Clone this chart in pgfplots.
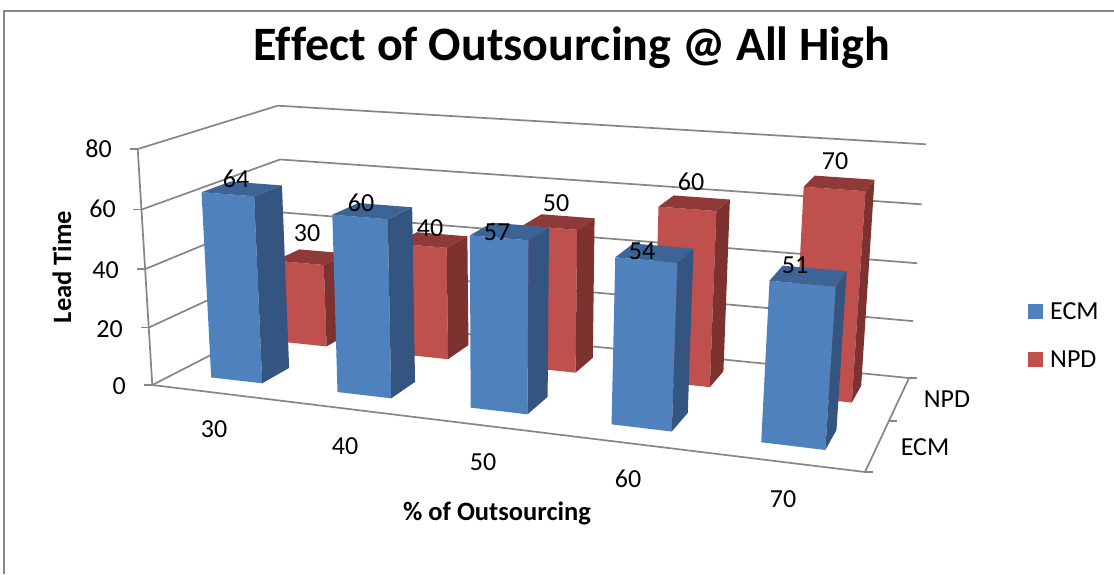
\documentclass[border=0pt]{standalone}
\usepackage{fontspec}
\setmainfont{Carlito}[Ligatures=NoCommon]
\usepackage{pgfplots}
\usepackage{pgfplotstable}
\pgfplotsset{compat=1.18}
\definecolor{bluefront}{HTML}{4F81BD}
\definecolor{blueside}{HTML}{34557F}
\definecolor{bluetop}{HTML}{3D6496}
\definecolor{redfront}{HTML}{C0504D}
\definecolor{redside}{HTML}{7D3230}
\definecolor{redtop}{HTML}{8F3A38}
\definecolor{axisgray}{HTML}{868686}
% one bar: category, depth, value, face colours
\newcommand{\onebar}[6]{%
  \pgfmathsetmacro{\ua}{#1+0.295}\pgfmathsetmacro{\ub}{#1+0.705}%
  \pgfmathsetmacro{\wa}{#2+0.3}\pgfmathsetmacro{\wb}{#2+0.7}%
  \edef\temp{\noexpand\addplot[fill=#4,draw=none] coordinates {
    ({px(\ua,\wa,0)},{py(\ua,\wa,0)}) ({px(\ub,\wa,0)},{py(\ub,\wa,0)})
    ({px(\ub,\wa,#3)},{py(\ub,\wa,#3)}) ({px(\ua,\wa,#3)},{py(\ua,\wa,#3)})} --cycle;
  \noexpand\addplot[fill=#5,draw=none] coordinates {
    ({px(\ub,\wa,0)},{py(\ub,\wa,0)}) ({px(\ub,\wb,0)},{py(\ub,\wb,0)})
    ({px(\ub,\wb,#3)},{py(\ub,\wb,#3)}) ({px(\ub,\wa,#3)},{py(\ub,\wa,#3)})} --cycle;
  \noexpand\addplot[fill=#6,draw=none] coordinates {
    ({px(\ua,\wa,#3)},{py(\ua,\wa,#3)}) ({px(\ub,\wa,#3)},{py(\ub,\wa,#3)})
    ({px(\ub,\wb,#3)},{py(\ub,\wb,#3)}) ({px(\ua,\wb,#3)},{py(\ua,\wb,#3)})} --cycle;}%
  \temp}
\newcommand{\gline}[6]{\addplot[axisgray,line width=1.7pt] coordinates {
  ({px(#1,#2,#3)},{py(#1,#2,#3)}) ({px(#4,#5,#6)},{py(#4,#5,#6)})};}
\newcommand{\tickl}[4]{\addplot[axisgray,line width=1.4pt] coordinates {
  ({px(#1,#2,#3)},{py(#1,#2,#3)}) ({px(#1,#2,#3)+#4},{py(#1,#2,#3)})};}
\begin{document}
\begin{tikzpicture}
\fill[white] (0,0) rectangle (1114pt,574pt);
\begin{axis}[
  hide axis, scale only axis, width=1114pt, height=574pt, at={(0,0)}, anchor=south west,
  xmin=0, xmax=1114, ymin=0, ymax=574, y dir=reverse, clip=true,
  declare function={
    dd(\u,\w,\v)=1-0.16221*\u/5+0.15729*\w/2-0.035*\v/80;
    px(\u,\w,\v)=(152.3+572.39*\u/5+179.84*\w/2+(-19.42+4.98*\u/5-1.06*\w/2)*\v/80)/dd(\u,\w,\v)+20*(\u/5)*(1-\u/5);
    py(\u,\w,\v)=(385+10.44*\u/5-19.30*\w/2+(-241.2+9.5*\u/5-5.9*\w/2)*\v/80)/dd(\u,\w,\v);
  },
  every axis plot/.append style={forget plot},
]
% frame
\addplot[axisgray,line width=2pt] coordinates {(4,574) (4,10.5) (1114,10.5)};
% walls: gridlines
\gline{0}{0}{0}{0}{2}{0}\gline{0}{2}{0}{5}{2}{0}
\gline{0}{0}{20}{0}{2}{20}\gline{0}{2}{20}{5}{2}{20}
\gline{0}{0}{40}{0}{2}{40}\gline{0}{2}{40}{5}{2}{40}
\gline{0}{0}{60}{0}{2}{60}\gline{0}{2}{60}{5}{2}{60}
\gline{0}{0}{80}{0}{2}{80}\gline{0}{2}{80}{5}{2}{80}
% axes
\gline{0}{0}{0}{0}{0}{80}
\gline{0}{0}{0}{5}{0}{0}
\gline{5}{0}{0}{5}{2}{0}
\tickl{0}{0}{0}{-8}\tickl{0}{0}{20}{-8}\tickl{0}{0}{40}{-8}\tickl{0}{0}{60}{-8}\tickl{0}{0}{80}{-8}
\tickl{5}{0}{0}{8}\tickl{5}{1}{0}{8}\tickl{5}{2}{0}{8}
% NPD bars (rear row)
\onebar{0}{1}{30}{redfront}{redside}{redtop}
\onebar{1}{1}{40}{redfront}{redside}{redtop}
\onebar{2}{1}{50}{redfront}{redside}{redtop}
\onebar{3}{1}{60}{redfront}{redside}{redtop}
\onebar{4}{1}{70}{redfront}{redside}{redtop}
% ECM bars (front row)
\onebar{0}{0}{64}{bluefront}{blueside}{bluetop}
\onebar{1}{0}{60}{bluefront}{blueside}{bluetop}
\onebar{2}{0}{57}{bluefront}{blueside}{bluetop}
\onebar{3}{0}{54}{bluefront}{blueside}{bluetop}
\onebar{4}{0}{51}{bluefront}{blueside}{bluetop}
% legend keys
\addplot[fill=bluefront,draw=none] coordinates {(1028,304) (1043,304) (1043,319) (1028,319)} --cycle;
\addplot[fill=redfront,draw=none] coordinates {(1028,352) (1043,352) (1043,367) (1028,367)} --cycle;
% text
\node[font=\bfseries\fontsize{48}{48}\selectfont] at (axis cs:572,48) {Effect of Outsourcing @ All High};
\begin{scope}[every node/.style={font=\fontsize{26}{27}\selectfont,inner sep=0pt}]
\node[anchor=east] at (axis cs:112,149) {80};
\node[anchor=east] at (axis cs:116,209) {60};
\node[anchor=east] at (axis cs:119,270) {40};
\node[anchor=east] at (axis cs:123,329) {20};
\node[anchor=east] at (axis cs:126,386) {0};
\node at (axis cs:236,179) {64};
\node at (axis cs:307,233) {30};
\node at (axis cs:361,203) {60};
\node at (axis cs:430,228) {40};
\node at (axis cs:497,232) {57};
\node at (axis cs:556,203) {50};
\node at (axis cs:642,251) {54};
\node at (axis cs:691,182) {60};
\node at (axis cs:835,161) {70};
\node at (axis cs:795,265) {51};
\node at (axis cs:214,429) {30};
\node at (axis cs:345,446) {40};
\node at (axis cs:483,462) {50};
\node at (axis cs:628,479) {60};
\node at (axis cs:783,499) {70};
\node at (axis cs:947,399.5) {NPD};
\node at (axis cs:925,447) {ECM};
\node[anchor=west] at (axis cs:1050,311) {ECM};
\node[anchor=west] at (axis cs:1050,359) {NPD};
\node[font=\bfseries\fontsize{26.5}{27}\selectfont] at (axis cs:497,513.5) {\% of Outsourcing};
\node[font=\bfseries\fontsize{26.5}{27}\selectfont,rotate=90] at (axis cs:62,267) {Lead Time};
\end{scope}
\end{axis}
\end{tikzpicture}
\end{document}
